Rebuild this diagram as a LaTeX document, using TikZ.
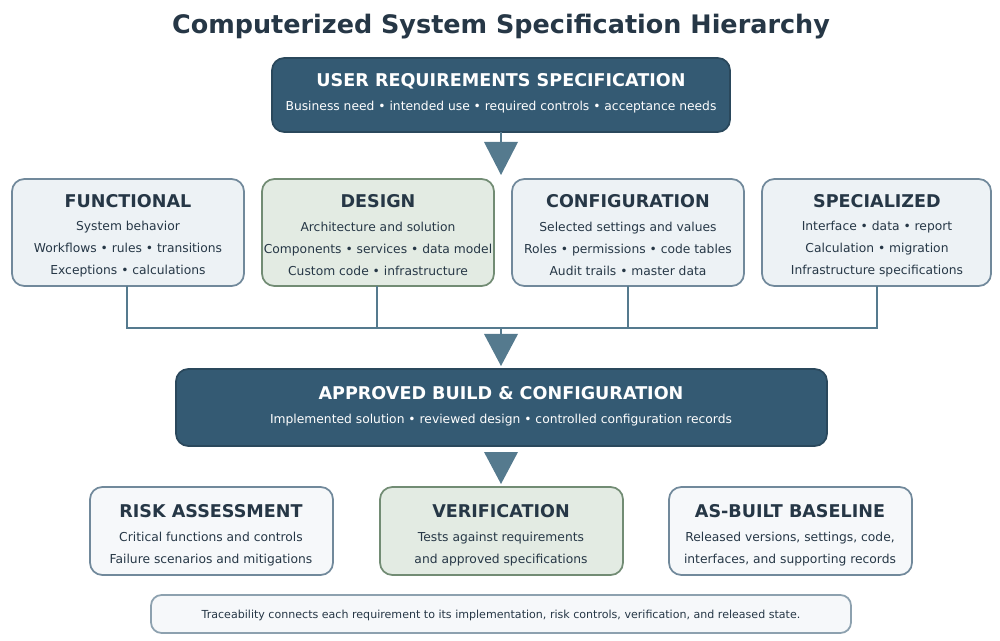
\documentclass[tikz,border=0pt]{standalone}
\usepackage{fontspec}
\setmainfont{DejaVu Sans}
\begin{document}
\begin{tikzpicture}[x=0.02cm,y=-0.02cm,
  dark/.style={draw=ink!80!black,fill=ink,rounded corners=7pt,line width=1pt},
  light/.style={draw=bord,fill=lfill,rounded corners=7pt,line width=1pt},
  green/.style={draw=gbord,fill=gfill,rounded corners=7pt,line width=1pt},
  hd/.style={font=\fontsize{10}{12}\selectfont\bfseries,text=titc},
  hdw/.style={font=\fontsize{10}{12}\selectfont\bfseries,text=white},
  bd/.style={font=\fontsize{7}{12.5}\selectfont,text=titc,align=center},
  bdw/.style={font=\fontsize{7}{12}\selectfont,text=white,align=center},
  tri/.style={fill=arr,draw=none},
  conn/.style={draw=arr,line width=1.6pt}]
\definecolor{ink}{HTML}{345A73}
\definecolor{bord}{HTML}{71899B}
\definecolor{lfill}{HTML}{EDF2F5}
\definecolor{gbord}{HTML}{728C74}
\definecolor{gfill}{HTML}{E3EBE3}
\definecolor{titc}{HTML}{263746}
\definecolor{arr}{HTML}{557A8E}
\useasboundingbox (0,0) rectangle (1000,641);
\node[font=\fontsize{14.5}{16}\selectfont\bfseries,text=titc] (title) at (501,27) {Computerized System Specification Hierarchy};
% URS
\draw[dark] (272,58) rectangle (730,132);
\node[hdw] (urs) at (501,81) {USER REQUIREMENTS SPECIFICATION};
\node[bdw] (urss) at (501,107) {Business need • intended use • required controls • acceptance needs};
\coordinate (a1) at (501,132);
\coordinate (a1t) at (501,142);
\draw[conn] (a1) -- (a1t);
\fill[tri] (484,142) -- (518,142) -- (501,175) -- cycle;
% four boxes
\draw[light] (12,179) rectangle (244,286);
\draw[green] (262,179) rectangle (494,286);
\draw[light] (512,179) rectangle (744,286);
\draw[light] (762,179) rectangle (991,286);
\node[hd] (f) at (128,201) {FUNCTIONAL};
\node[bd] (fb) at (128,249) {System behavior\\Workflows • rules • transitions\\Exceptions • calculations};
\node[hd] (d) at (378,201) {DESIGN};
\node[bd] (db) at (378,249) {Architecture and solution\\Components • services • data model\\Custom code • infrastructure};
\node[hd] (c) at (628,201) {CONFIGURATION};
\node[bd] (cb) at (628,249) {Selected settings and values\\Roles • permissions • code tables\\Audit trails • master data};
\node[hd] (s) at (877,201) {SPECIALIZED};
\node[bd] (sb) at (877,249) {Interface • data • report\\Calculation • migration\\Infrastructure specifications};
\coordinate (b1) at (127,286); \coordinate (b2) at (377,286);
\coordinate (b3) at (628,286); \coordinate (b4) at (877,286);
\coordinate (j1) at (127,328); \coordinate (j4) at (877,328);
\coordinate (j2) at (377,328); \coordinate (j3) at (628,328);
\coordinate (jm) at (501,328); \coordinate (jt) at (501,334);
\draw[conn] (b1) -- (j1) -- (j4) -- (b4);
\draw[conn] (b2) -- (j2); \draw[conn] (b3) -- (j3);
\draw[conn] (jm) -- (jt);
\fill[tri] (484,334) -- (518,334) -- (501,366) -- cycle;
% approved
\draw[dark] (176,369) rectangle (827,446);
\node[hdw] (ab) at (501,393) {APPROVED BUILD \& CONFIGURATION};
\node[bdw] (abs) at (501,420) {Implemented solution • reviewed design • controlled configuration records};
\fill[tri] (484,452) -- (518,452) -- (501,484) -- cycle;
% bottom
\draw[light,fill=white!50!lfill] (90,487) rectangle (333,575);
\draw[green] (380,487) rectangle (623,575);
\draw[light,fill=white!50!lfill] (669,487) rectangle (912,575);
\node[hd] (r) at (211,511) {RISK ASSESSMENT};
\node[bd] (rb) at (211,549) {Critical functions and controls\\Failure scenarios and mitigations};
\node[hd] (v) at (501,511) {VERIFICATION};
\node[bd] (vb) at (501,549) {Tests against requirements\\and approved specifications};
\node[hd] (ba) at (790,511) {AS-BUILT BASELINE};
\node[bd] (bab) at (790,549) {Released versions, settings, code,\\interfaces, and supporting records};
% footer
\draw[draw=bord!80,fill=white!50!lfill,rounded corners=6pt,line width=1pt] (151,595) rectangle (851,633);
\node[font=\fontsize{6.3}{8}\selectfont,text=titc] (ft) at (501,615) {Traceability connects each requirement to its implementation, risk controls, verification, and released state.};
\end{tikzpicture}
\end{document}
